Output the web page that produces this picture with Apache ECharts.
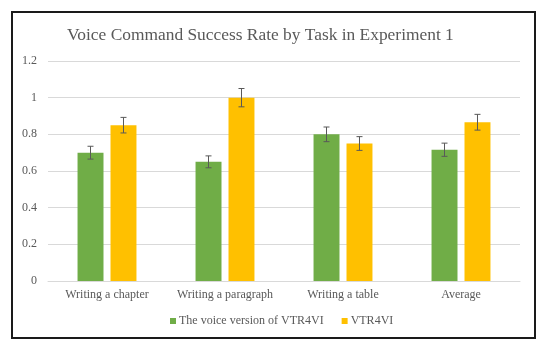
<!DOCTYPE html>
<html>
<head>
<meta charset="utf-8">
<script src="https://cdn.jsdelivr.net/npm/echarts@6/dist/echarts.min.js"></script>
<style>html,body{margin:0;padding:0;background:#fff;}#c{width:550px;height:353px;}</style>
</head>
<body>
<div id="c"></div>
<script>
const categories = ['Writing a chapter', 'Writing a paragraph', 'Writing a table', 'Average'];
const seriesNames = ['The voice version of VTR4VI', 'VTR4VI'];
const voiceValues = [0.70, 0.65, 0.80, 0.716];
const vtrValues = [0.85, 1.00, 0.75, 0.866];
const voiceErrors = [0.035, 0.0325, 0.04, 0.036];
const vtrErrors = [0.0425, 0.05, 0.0375, 0.043];
const yTicks = [0, 0.2, 0.4, 0.6, 0.8, 1, 1.2];

const FONT = '"Liberation Serif", "Times New Roman", serif';
const TXT = '#595959';
const BAR_W = 0.22, BAR_GAP = 0.27;

function errorSeries(values, errors, sign) {
  return {
    type: 'custom',
    silent: true,
    z: 5,
    data: values.map((v, i) => [i, v - errors[i], v + errors[i]]),
    renderItem: function (params, api) {
      const band = api.size([1, 0])[0];
      const bw = band * BAR_W;
      const off = sign * (bw + bw * BAR_GAP) / 2;
      const lo = api.coord([api.value(0), api.value(1)]);
      const hi = api.coord([api.value(0), api.value(2)]);
      const x = lo[0] + off;
      const cap = 3;
      const style = { stroke: '#595959', lineWidth: 1 };
      return {
        type: 'group',
        children: [
          { type: 'line', shape: { x1: x, y1: lo[1], x2: x, y2: hi[1] }, style: style },
          { type: 'line', shape: { x1: x - cap, y1: lo[1], x2: x + cap, y2: lo[1] }, style: style },
          { type: 'line', shape: { x1: x - cap, y1: hi[1], x2: x + cap, y2: hi[1] }, style: style }
        ]
      };
    }
  };
}

const chart = echarts.init(document.getElementById('c'), null, { renderer: 'canvas' });
chart.setOption({
  animation: false,
  backgroundColor: '#fff',
  title: {
    text: 'Voice Command Success Rate by Task in Experiment 1',
    left: 62,
    top: 22,
    textStyle: { fontFamily: FONT, fontSize: 17.4, fontWeight: 'normal', color: TXT }
  },
  graphic: [{
    type: 'rect',
    shape: { x: 12, y: 12, width: 523, height: 326 },
    style: { fill: 'none', stroke: '#1a1a1a', lineWidth: 2 },
    silent: true
  }],
  legend: {
    data: seriesNames,
    bottom: 21,
    left: 165,
    itemWidth: 6,
    itemHeight: 6,
    itemGap: 18,
    icon: 'rect',
    textStyle: { fontFamily: FONT, fontSize: 12, color: TXT, padding: [0, 0, 0, -2] }
  },
  grid: { left: 48, right: 30, top: 61, bottom: 72 },
  xAxis: {
    type: 'category',
    data: categories,
    axisTick: { show: false },
    axisLine: { lineStyle: { color: '#d9d9d9' } },
    axisLabel: { fontFamily: FONT, fontSize: 12, color: TXT, margin: 8, interval: 0 }
  },
  yAxis: {
    type: 'value',
    min: yTicks[0],
    max: yTicks[yTicks.length - 1],
    interval: 0.2,
    axisLine: { show: false },
    axisTick: { show: false },
    splitLine: { lineStyle: { color: '#d9d9d9' } },
    axisLabel: {
      fontFamily: FONT, fontSize: 12, color: TXT, margin: 11,
      formatter: v => String(Math.round(v * 10) / 10)
    }
  },
  series: [
    { name: seriesNames[0], type: 'bar', data: voiceValues, barWidth: (BAR_W * 100) + '%', barGap: (BAR_GAP * 100) + '%', itemStyle: { color: '#70AD47' } },
    { name: seriesNames[1], type: 'bar', data: vtrValues, barWidth: (BAR_W * 100) + '%', barGap: (BAR_GAP * 100) + '%', itemStyle: { color: '#FFC000' } },
    errorSeries(voiceValues, voiceErrors, -1),
    errorSeries(vtrValues, vtrErrors, 1)
  ]
});
</script>
</body>
</html>
